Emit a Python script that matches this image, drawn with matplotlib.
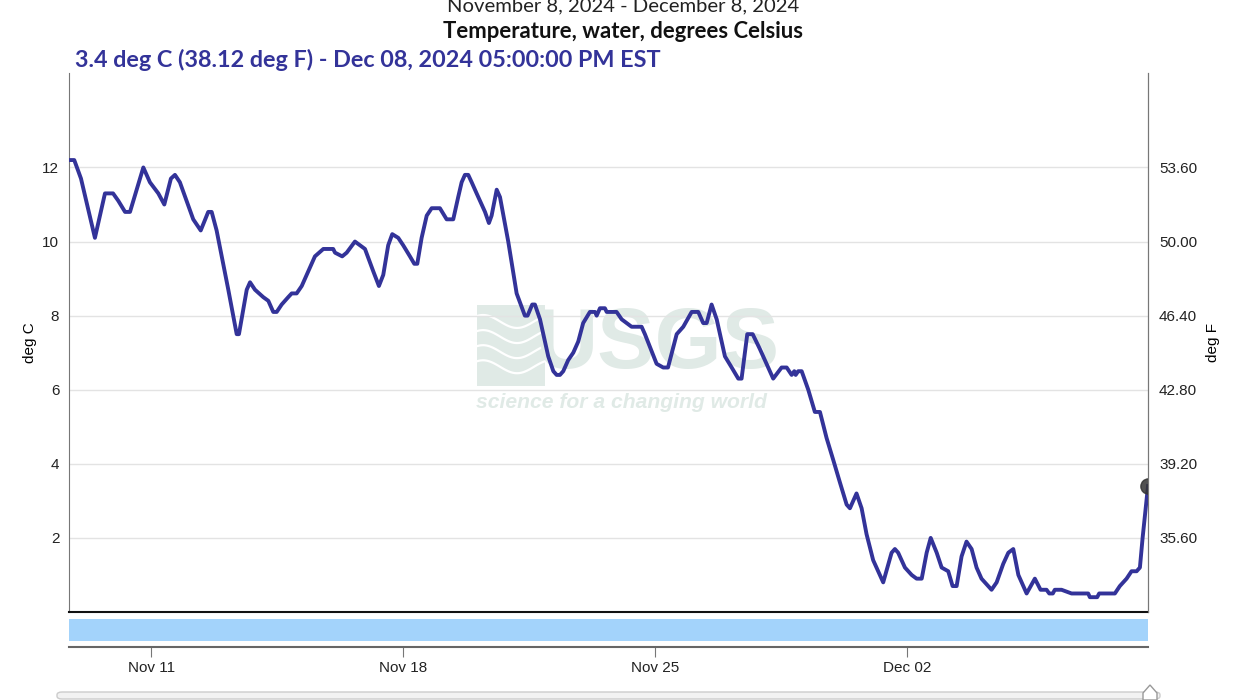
import matplotlib.pyplot as plt
import matplotlib.dates as mdates
from matplotlib.patches import FancyBboxPatch, Polygon, Rectangle
import numpy as np
import pandas as pd

# hours since Nov 08, 2024 17:00 EST, water temperature (deg C)
start = pd.Timestamp("2024-11-08 17:00")
end = pd.Timestamp("2024-12-08 17:00")
hours = [0, 3.5, 8, 17.3, 24, 29.4, 32.9, 37.4, 40.7, 49.6, 54, 59.6, 63.6, 68, 70.7, 74,
         82.9, 87.9, 92.9, 95.2, 98.5, 106.3, 111.9, 113.4, 118.6, 120.8, 124.1, 129.6,
         133, 136.3, 138.6, 141.9, 146.3, 148.6, 151.9, 155.3, 159.7, 164.1, 169.7, 176.3,
         177.5, 182.3, 185.3, 190.8, 194.2, 197.5, 203, 206.8, 209.7, 213, 215.7, 219.7,
         223, 227.5, 230.4, 232.4, 235.3, 238.7, 242, 247.5, 252, 256.4, 259.7, 262,
         264.2, 266.4, 268.7, 272, 275.4, 277.6, 280.2, 282, 285.4, 287.6, 293.1, 298.7,
         304.2, 306, 309.1, 310.9, 314.3, 319.8, 323.2, 325.4, 327.6, 329.8, 333.1, 336.5,
         339.8, 343.1, 347.6, 351, 352.1, 354.3, 357.6, 358.8, 365.4, 368.8, 372.1, 375.4,
         382.1, 384.3, 392.1, 396.5, 399.7, 405.5, 409.9, 415.5, 419.9, 423.2, 425.5,
         428.8, 432.2, 437.7, 442.2, 446.6, 448.8, 452.6, 456.2, 461, 469.9, 475.5, 478.9,
         482.2, 484, 484.9, 486.6, 488.9, 493.3, 497.7, 501.1, 505.5, 510, 514.4, 518.9,
         521.1, 522.2, 525.5, 528.9, 532.2, 536.6, 543.3, 548.9, 551.1, 553.3, 557.8,
         562.3, 565.6, 569, 572.3, 575, 579, 582.3, 586.7, 589.6, 592.3, 595.6, 598.9,
         602.3, 605.6, 608.9, 615.6, 619, 623.4, 626.8, 630.1, 633.5, 639, 644.5, 648.3,
         652.3, 654.1, 656.5, 657.8, 662.3, 669, 680.1, 681.2, 686.1, 687.4, 697.9, 701.2,
         705.7, 709, 712.4, 714.6, 716.4, 720]
temp_c = [12.2, 12.2, 11.7, 10.1, 11.3, 11.3, 11.1, 10.8, 10.8, 12.0, 11.6, 11.3, 11.0, 11.7,
          11.8, 11.6, 10.6, 10.3, 10.8, 10.8, 10.3, 8.7, 7.5, 7.5, 8.7, 8.9, 8.7, 8.5,
          8.4, 8.1, 8.1, 8.3, 8.5, 8.6, 8.6, 8.8, 9.2, 9.6, 9.8, 9.8,
          9.7, 9.6, 9.7, 10.0, 9.9, 9.8, 9.2, 8.8, 9.1, 9.9, 10.2, 10.1,
          9.9, 9.6, 9.4, 9.4, 10.1, 10.7, 10.9, 10.9, 10.6, 10.6, 11.2, 11.6,
          11.8, 11.8, 11.6, 11.3, 11.0, 10.8, 10.5, 10.7, 11.4, 11.2, 10.0, 8.6,
          8.0, 8.0, 8.3, 8.3, 7.9, 6.9, 6.5, 6.4, 6.4, 6.5, 6.8, 7.0,
          7.3, 7.8, 8.1, 8.1, 8.0, 8.2, 8.2, 8.1, 8.1, 7.9, 7.8, 7.7,
          7.7, 7.5, 6.7, 6.6, 6.6, 7.5, 7.7, 8.1, 8.1, 7.8, 7.8,
          8.3, 7.9, 6.9, 6.6, 6.3, 6.3, 7.5, 7.5, 7.1, 6.3, 6.6, 6.6,
          6.4, 6.5, 6.4, 6.5, 6.5, 6.0, 5.4, 5.4, 4.7, 4.1, 3.5, 2.9,
          2.8, 2.9, 3.2, 2.8, 2.1, 1.4, 0.8, 1.6, 1.7, 1.6, 1.2,
          1.0, 0.9, 0.9, 1.6, 2.0, 1.6, 1.2, 1.1, 0.7, 0.7, 1.5, 1.9,
          1.7, 1.2, 0.9, 0.6, 0.8, 1.3, 1.6, 1.7, 1.0, 0.5, 0.9, 0.6,
          0.6, 0.5, 0.5, 0.6, 0.6, 0.5, 0.5, 0.4, 0.4, 0.5, 0.5, 0.7,
          0.9, 1.1, 1.1, 1.2, 2.0, 3.4]
yticks = [2, 4, 6, 8, 10, 12]
date_ticks = ["2024-11-11", "2024-11-18", "2024-11-25", "2024-12-02"]

times = start + pd.to_timedelta(hours, unit="h")
line_color = "#333399"
wm_color = "#e0eae6"
W, H = 1252, 700

fig = plt.figure(figsize=(12.52, 7), dpi=100)
ax = fig.add_axes([69 / W, 1 - 612 / H, (1148 - 69) / W, (612 - 73) / H])

# USGS watermark (logo block with waves + letters + slogan)
ax.add_patch(Rectangle((0.378, 0.42), 0.063, 0.15, transform=ax.transAxes,
                       fc=wm_color, ec="none", zorder=0))
wx = np.linspace(0.378, 0.441, 60)
for k in range(4):
    wy = 0.455 + 0.028 * k + 0.012 * np.sin((wx - 0.378) / 0.063 * 2 * np.pi + 1.0)
    ax.plot(wx, wy, color="white", lw=1.6, transform=ax.transAxes, zorder=0)
ax.text(0.546, 0.493, "USGS", transform=ax.transAxes, fontsize=62, fontweight="bold",
        color=wm_color, ha="center", va="center", family="Liberation Sans", zorder=0)
ax.text(0.512, 0.388, "science for a changing world", transform=ax.transAxes, fontsize=15.2,
        fontweight="bold", style="italic", color=wm_color, ha="center", va="center",
        family="Liberation Sans", zorder=0)

ax.plot(times, temp_c, color=line_color, lw=2.8, solid_joinstyle="round", zorder=3)
ax.plot(times[-1], temp_c[-1], "o", ms=11, color="#333333", alpha=0.85, zorder=4)

ax.set_xlim(start, end)
ax.set_ylim(0, 14.55)
ax.set_yticks(yticks)
ax.set_yticklabels([str(v) for v in yticks], family="Liberation Sans", fontsize=11, color="#222222")
ax.tick_params(axis="y", length=0, pad=7)
ax.set_xticks([])
ax.grid(axis="y", color="#e3e3e3", lw=1)
ax.set_axisbelow(True)
ax.spines["top"].set_visible(False)
ax.spines["left"].set_color("#777777")
ax.spines["right"].set_color("#777777")
ax.spines["bottom"].set_color("#111111")
ax.spines["bottom"].set_linewidth(1.5)
ax.set_ylabel("deg C", family="Liberation Sans", fontsize=11, labelpad=4)

ax2 = ax.twinx()
ax2.set_ylim(ax.get_ylim())
ax2.set_yticks(yticks)
ax2.set_yticklabels([f"{v * 1.8 + 32:.2f}" for v in yticks], family="Liberation Sans",
                    fontsize=11, color="#222222")
ax2.tick_params(axis="y", length=0, pad=8)
ax2.spines["top"].set_visible(False)
ax2.spines["right"].set_color("#777777")
ax2.spines["left"].set_visible(False)
ax2.spines["bottom"].set_visible(False)
ax2.set_ylabel("deg F", family="Liberation Sans", fontsize=11, labelpad=6)

# navigator strip
nav = fig.add_axes([69 / W, 1 - 647 / H, (1148 - 69) / W, 28 / H])
nav.set_xlim(start, end)
nav.set_ylim(0, 1)
nav.axhspan(0.2, 0.985, color="#a3d3fb", lw=0)
for s in ["top", "left", "right"]:
    nav.spines[s].set_visible(False)
nav.spines["bottom"].set_color("#666666")
nav.spines["bottom"].set_linewidth(1.5)
nav.set_yticks([])
nav.set_xticks(pd.to_datetime(date_ticks))
nav.xaxis.set_major_formatter(mdates.DateFormatter("%b %d"))
nav.tick_params(axis="x", length=7, color="#777777", pad=3, labelsize=11, labelcolor="#222222")
for lbl in nav.get_xticklabels():
    lbl.set_family("Liberation Sans")

# scrollbar
fig.patches.append(FancyBboxPatch((57 / W, 1 - 699 / H), (1160 - 57) / W, 7 / H,
                                  boxstyle="round,pad=0,rounding_size=0.004",
                                  transform=fig.transFigure, fc="#f2f2f2", ec="#cccccc", lw=1))
fig.patches.append(Polygon([(1143 / W, 0.0), (1143 / W, 1 - 693 / H), (1150 / W, 1 - 685 / H),
                            (1157 / W, 1 - 693 / H), (1157 / W, 0.0)], closed=True,
                           transform=fig.transFigure, fc="white", ec="#999999", lw=1))

# titles
fig.text(623 / W, 1 - 6 / H, "November 8, 2024 - December 8, 2024", ha="center", va="center",
         fontsize=14.6, family="Lato", color="#222222")
fig.text(623 / W, 1 - 32 / H, "Temperature, water, degrees Celsius", ha="center", va="center",
         fontsize=15.9, fontweight="bold", family="Lato", color="#111111")
fig.text(75 / W, 1 - 60 / H, "3.4 deg C (38.12 deg F) - Dec 08, 2024 05:00:00 PM EST",
         ha="left", va="center", fontsize=16.8, fontweight="bold", family="Lato", color=line_color)

fig.savefig("out.png", dpi=100)
